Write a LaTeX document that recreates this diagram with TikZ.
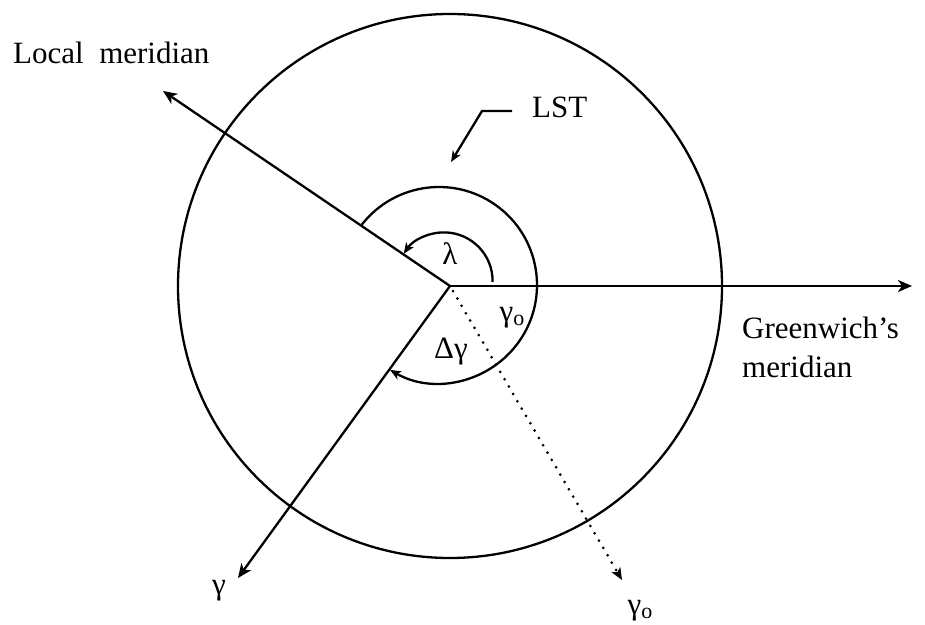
\documentclass[tikz,border=0pt]{standalone}
\usepackage{fontspec}
\setmainfont{Liberation Serif}
\usetikzlibrary{arrows.meta,calc}
\begin{document}
\begin{tikzpicture}[x=1pt,y=1pt,
  line/.style={line width=2.3pt},
  bigtip/.style={-{Stealth[length=14pt,width=12pt,inset=4pt]}},
  midtip/.style={-{Stealth[length=12pt,width=10pt,inset=3pt]}},
  smalltip/.style={-{Stealth[length=11pt,width=9pt,inset=3pt]}},
  dots/.style={line width=3pt, dash pattern=on 0pt off 8.5pt, line cap=round},
  lbl/.style={font=\fontsize{31}{39}\selectfont, inner sep=0pt},
]
\useasboundingbox (0,0) rectangle (925,624);
% centre and arrow ends
\coordinate (O) at (450,338);
\coordinate (lm) at (163,533);
\coordinate (gw) at (912,338);
\coordinate (g) at (238,46);
\coordinate (g0) at (622,44);
% big circle
\draw[line] (O) circle[radius=272];
% rays
\draw[line,bigtip] (O) -- (lm);
\draw[line,bigtip] (O) -- (gw);
\draw[line,bigtip] (O) -- (g);
\draw[dots,midtip] ($(O)!6pt!(g0)$) -- (g0);
% lambda arc
\coordinate (c1) at (444,343);
\draw[line,smalltip] ($(c1)+(-1:48.6)$) arc[start angle=-1, end angle=146, radius=48.6];
% LST arc
\coordinate (c2) at (439,339);
\draw[line,smalltip] ($(c2)+(142:98)$) arc[start angle=142, end angle=-120, radius=98];
% LST leader
\coordinate (ls) at (512,513);
\coordinate (lk) at (482,513);
\coordinate (la) at (451,462);
\draw[line,smalltip] (ls) -- (lk) -- (la);
% labels
\node[lbl, anchor=base west] (lmlabel) at (13,560) {Local\ \ meridian};
\node[lbl, anchor=base west] (lst) at (532,506) {LST};
\node[lbl, anchor=base west] (gw1) at (742,285) {Greenwich’s};
\node[lbl, anchor=base west] (gw2) at (742,246) {meridian};
\node[lbl] (lam) at (450,370) {λ};
\node[lbl] (g0in) at (512,306) {γ\raisebox{-4pt}{\fontsize{22}{22}\selectfont o}};
\node[lbl] (dg) at (451,272) {Δγ};
\node[lbl] (glab) at (219,33) {γ};
\node[lbl] (g0lab) at (640,13) {γ\raisebox{-4pt}{\fontsize{22}{22}\selectfont o}};
\end{tikzpicture}
\end{document}
